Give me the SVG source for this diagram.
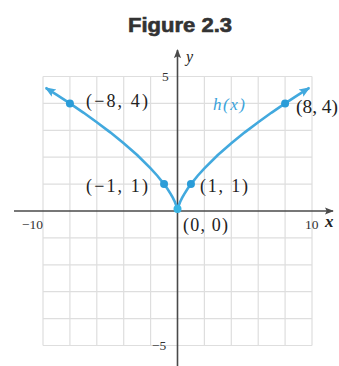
<svg xmlns="http://www.w3.org/2000/svg" width="339" height="366" viewBox="0 0 339 366">
<style>
.grid line{stroke:#dedede;stroke-width:1.2}
.axis{stroke:#4a4a4a;stroke-width:1.6;fill:none}
.lbl{font-family:"Liberation Serif","Times New Roman",serif;font-size:18px;fill:#222}
.tick{font-family:"Liberation Serif","Times New Roman",serif;font-size:13.5px;fill:#333}
.curve{stroke:#42a9de;stroke-width:2.6;fill:none}
.dot{fill:#2a9cd8}
</style>
<defs>
<marker id="ax" viewBox="0 0 10 10" refX="9" refY="5" markerWidth="9" markerHeight="9" markerUnits="userSpaceOnUse" orient="auto">
<path d="M0,1 L10,5 L0,9 L2,5 Z" fill="#4a4a4a"/>
</marker>
<marker id="cv" viewBox="0 0 10 10" refX="9" refY="5" markerWidth="11" markerHeight="11" markerUnits="userSpaceOnUse" orient="auto-start-reverse">
<path d="M0,1 L10,5 L0,9 L2,5 Z" fill="#42a9de"/>
</marker>
</defs>
<rect width="339" height="366" fill="#ffffff"/>
<text x="180" y="32" text-anchor="middle" font-family="'Liberation Sans',Arial,sans-serif" font-weight="bold" font-size="20" fill="#333" stroke="#333" stroke-width="0.6" textLength="104" lengthAdjust="spacingAndGlyphs">Figure 2.3</text>
<g class="grid">
<line x1="43" y1="76.5" x2="43" y2="345.5"/>
<line x1="69.9" y1="76.5" x2="69.9" y2="345.5"/>
<line x1="96.8" y1="76.5" x2="96.8" y2="345.5"/>
<line x1="123.7" y1="76.5" x2="123.7" y2="345.5"/>
<line x1="150.6" y1="76.5" x2="150.6" y2="345.5"/>
<line x1="204.4" y1="76.5" x2="204.4" y2="345.5"/>
<line x1="231.3" y1="76.5" x2="231.3" y2="345.5"/>
<line x1="258.2" y1="76.5" x2="258.2" y2="345.5"/>
<line x1="285.1" y1="76.5" x2="285.1" y2="345.5"/>
<line x1="312" y1="76.5" x2="312" y2="345.5"/>
<line x1="43" y1="76.5" x2="312" y2="76.5"/>
<line x1="43" y1="103.4" x2="312" y2="103.4"/>
<line x1="43" y1="130.3" x2="312" y2="130.3"/>
<line x1="43" y1="157.2" x2="312" y2="157.2"/>
<line x1="43" y1="184.1" x2="312" y2="184.1"/>
<line x1="43" y1="237.9" x2="312" y2="237.9"/>
<line x1="43" y1="264.8" x2="312" y2="264.8"/>
<line x1="43" y1="291.7" x2="312" y2="291.7"/>
<line x1="43" y1="318.6" x2="312" y2="318.6"/>
<line x1="43" y1="345.5" x2="312" y2="345.5"/>
</g>
<g id="axes">
<line class="axis" x1="14" y1="211" x2="333" y2="211" marker-end="url(#ax)"/>
<line class="axis" x1="177.5" y1="366" x2="177.5" y2="50" marker-end="url(#ax)"/>
<text class="tick" x="22" y="229">−10</text>
<text class="tick" x="305" y="229">10</text>
<text x="325" y="227" font-family="'Liberation Serif',serif" font-style="italic" font-weight="bold" font-size="17" fill="#222">x</text>
<text class="tick" x="162" y="81">5</text>
<text class="tick" x="152" y="350">−5</text>
<text x="186" y="62" font-family="'Liberation Serif',serif" font-style="italic" font-size="16" fill="#222">y</text>
</g>
<g id="connectors">
<path class="curve" marker-start="url(#cv)" marker-end="url(#cv)" d="M45.69,87.81 L56.45,94.61 L69.9,103.4 L83.35,112.56 L96.8,122.18 L110.25,132.34 L123.7,143.22 L137.15,155.05 L150.6,168.3 L157.32,175.75 L164.05,184.1 L167.41,188.79 L170.77,194.05 L172.79,197.64 L174.81,201.8 L176.15,205.21 L176.83,207.35 L177.5,211 L178.17,207.35 L178.85,205.21 L180.19,201.8 L182.21,197.64 L184.23,194.05 L187.59,188.79 L190.95,184.1 L197.68,175.75 L204.4,168.3 L217.85,155.05 L231.3,143.22 L244.75,132.34 L258.2,122.18 L271.65,112.56 L285.1,103.4 L298.55,94.61 L309.31,87.81"/>
</g>
<g id="p-8-4"><circle class="dot" cx="69.9" cy="103.4" r="4"/><text class="lbl" x="86" y="107" textLength="62" lengthAdjust="spacing">(−8, 4)</text></g>
<g id="p8-4"><circle class="dot" cx="285.1" cy="103.4" r="4"/><text class="lbl" x="296" y="113" textLength="42" lengthAdjust="spacingAndGlyphs">(8, 4)</text></g>
<g id="p-1-1"><circle class="dot" cx="164.05" cy="184.1" r="4"/><text class="lbl" x="86" y="192" textLength="62" lengthAdjust="spacing">(−1, 1)</text></g>
<g id="p1-1"><circle class="dot" cx="190.95" cy="184.1" r="4"/><text class="lbl" x="200" y="192" textLength="48" lengthAdjust="spacing">(1, 1)</text></g>
<g id="p0-0"><circle cx="177.5" cy="209" r="4" fill="#36b4e4"/><text class="lbl" x="183" y="231" textLength="45" lengthAdjust="spacing">(0, 0)</text></g>
<g id="hx"><text x="213" y="110" font-family="'Liberation Serif',serif" font-style="italic" font-size="17" fill="#3aa3db" textLength="32" lengthAdjust="spacing">h(x)</text></g>
</svg>
